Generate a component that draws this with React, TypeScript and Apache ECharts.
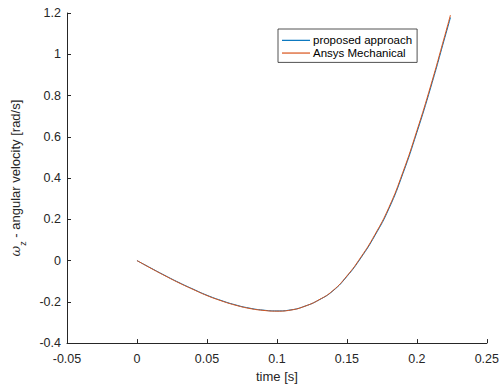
import React, { useEffect, useRef } from "react";
import * as echarts from "echarts";

// Sample times [s]
const time = [
  0, 0.01, 0.02, 0.03, 0.04, 0.05, 0.06, 0.07, 0.08, 0.09, 0.1, 0.11, 0.12, 0.13,
  0.14, 0.15, 0.16, 0.17, 0.18, 0.19, 0.2, 0.21, 0.22, 0.224,
];

// Angular velocity omega_z [rad/s], proposed approach
const proposed = [
  0, -0.0365, -0.0723, -0.1065, -0.138, -0.168, -0.193, -0.214, -0.23, -0.24, -0.244,
  -0.239, -0.221, -0.191, -0.147, -0.077, 0.013, 0.121, 0.251, 0.421, 0.621, 0.841,
  1.081, 1.178,
];

// Angular velocity omega_z [rad/s], Ansys Mechanical
const ansys = [
  0, -0.0375, -0.0735, -0.108, -0.1395, -0.1695, -0.1945, -0.2155, -0.2315, -0.2412,
  -0.2452, -0.2398, -0.2212, -0.1905, -0.1455, -0.0745, 0.0165, 0.1255, 0.257, 0.428,
  0.629, 0.85, 1.091, 1.19,
];

const xTicks = { min: -0.05, max: 0.25, step: 0.05 };
const yTicks = { min: -0.4, max: 1.2, step: 0.2 };

const AXIS_COLOR = "#262626";
const FONT = "'Liberation Sans', Arial, Helvetica, sans-serif";

const fmt = (v: number) => String(+v.toFixed(2));

export default function App() {
  const ref = useRef<HTMLDivElement>(null);

  useEffect(() => {
    if (!ref.current) return;
    const chart = echarts.init(ref.current, undefined, { renderer: "svg" });

    const axisCommon = {
      axisLine: { show: true, onZero: false, lineStyle: { color: AXIS_COLOR, width: 1 } },
      axisTick: { show: true, inside: true, length: 4, lineStyle: { color: AXIS_COLOR, width: 1 } },
      splitLine: { show: false },
      axisLabel: {
        color: AXIS_COLOR,
        fontFamily: FONT,
        fontSize: 12.5,
        formatter: (v: number) => fmt(v),
      },
      nameTextStyle: { color: AXIS_COLOR, fontFamily: FONT, fontSize: 13 },
    };

    chart.setOption({
      animation: false,
      backgroundColor: "#ffffff",
      textStyle: { fontFamily: FONT },
      grid: { left: 67, right: 15, top: 13, bottom: 44, containLabel: false },
      legend: {
        orient: "vertical",
        left: 278,
        top: 29,
        width: 140,
        icon: "rect",
        itemWidth: 28,
        itemHeight: 1.2,
        itemGap: 0,
        padding: [5, 5, 3, 4],
        borderColor: AXIS_COLOR,
        borderWidth: 0.8,
        backgroundColor: "#ffffff",
        textStyle: {
          color: "#000000",
          fontFamily: FONT,
          fontSize: 11.5,
          lineHeight: 12.7,
          padding: [0, 0, 0, -2],
        },
        data: ["proposed approach", "Ansys Mechanical"],
      },
      xAxis: {
        type: "value",
        min: xTicks.min,
        max: xTicks.max,
        interval: xTicks.step,
        name: "time [s]",
        nameLocation: "middle",
        nameGap: 26,
        ...axisCommon,
        axisLabel: { ...axisCommon.axisLabel, margin: 9 },
      },
      yAxis: {
        type: "value",
        min: yTicks.min,
        max: yTicks.max,
        interval: yTicks.step,
        name: "{w|ω}{z|z}{t| - angular velocity [rad/s]}",
        nameLocation: "middle",
        nameGap: 44,
        ...axisCommon,
        nameTextStyle: {
          color: AXIS_COLOR,
          fontFamily: FONT,
          fontSize: 13,
          rich: {
            w: { fontSize: 13, fontStyle: "italic", fontFamily: "'DejaVu Serif', serif", color: AXIS_COLOR, verticalAlign: "middle", lineHeight: 16 },
            z: { fontSize: 9, fontFamily: FONT, color: AXIS_COLOR, verticalAlign: "bottom", lineHeight: 16, padding: [0, 0, -4, 0] },
            t: { fontSize: 13, fontFamily: FONT, color: AXIS_COLOR, verticalAlign: "middle", lineHeight: 16 },
          },
        },
        axisLabel: { ...axisCommon.axisLabel, margin: 6 },
      },
      series: [
        {
          name: "proposed approach",
          type: "line",
          smooth: 0.5,
          symbol: "none",
          data: time.map((t, i) => [t, proposed[i]]),
          lineStyle: { color: "#0072BD", width: 1 },
          itemStyle: { color: "#0072BD" },
          z: 2,
        },
        {
          name: "Ansys Mechanical",
          type: "line",
          smooth: 0.5,
          symbol: "none",
          data: time.map((t, i) => [t, ansys[i]]),
          lineStyle: { color: "#D95319", width: 1 },
          itemStyle: { color: "#D95319" },
          z: 3,
        },
      ],
    });

    return () => chart.dispose();
  }, []);

  return <div ref={ref} style={{ width: 502, height: 388, position: "absolute", left: 0, top: 0 }} />;
}
